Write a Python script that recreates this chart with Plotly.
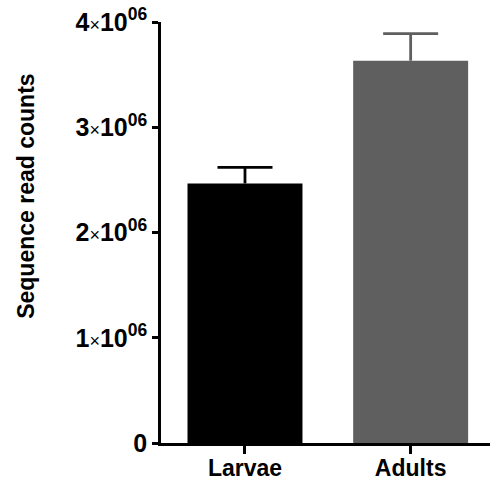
import plotly.graph_objects as go

categories = ["Larvae", "Adults"]
means = [2.466e6, 3.632e6]
errors = [0.153e6, 0.257e6]
colors = ["#000000", "#5f5f5f"]
tick_vals = [0, 1e6, 2e6, 3e6, 4e6]
tick_text = ["<b>0</b>"] + [
    "<b>%d</b><span style='font-size:18px'>×</span><b>10</b><sup><b>06</b></sup>" % k for k in (1, 2, 3, 4)
]
y_title = "Sequence read counts"

BAR_W = 0.694
CAP_HALF = 0.166

fig = go.Figure()
for i, cat in enumerate(categories):
    fig.add_trace(go.Bar(
        x=[i], y=[means[i]], width=BAR_W,
        marker=dict(color=colors[i], line=dict(width=0)),
        showlegend=False, hoverinfo="skip",
    ))
    top = means[i] + errors[i]
    fig.add_trace(go.Scatter(
        x=[i, i, None, i - CAP_HALF, i + CAP_HALF],
        y=[means[i], top, None, top, top],
        mode="lines", line=dict(color=colors[i], width=2.8),
        showlegend=False, hoverinfo="skip", cliponaxis=False,
    ))

FONT = "Liberation Sans, Arial, sans-serif"
fig.update_layout(
    template="none",
    width=490, height=481,
    margin=dict(l=161, r=0, t=22, b=38),
    paper_bgcolor="white", plot_bgcolor="white",
    barmode="overlay",
    font=dict(family=FONT, color="black", size=23),
    xaxis=dict(
        automargin=False,
        range=[-0.507, 1.479], tickvals=[0, 1],
        ticktext=["<b>" + c + "</b>" for c in categories],
        showline=True, linewidth=2.5, linecolor="black",
        ticks="outside", ticklen=8, tickwidth=2.5, tickcolor="black",
        showgrid=False, zeroline=False, tickfont=dict(size=23),
        ticklabelstandoff=-5, ticklabeloverflow="allow",
    ),
    yaxis=dict(
        automargin=False,
        range=[0, 4e6], tickvals=tick_vals, ticktext=tick_text,
        showline=True, linewidth=2.5, linecolor="black",
        ticks="outside", ticklen=6, tickwidth=2.5, tickcolor="black",
        showgrid=False, zeroline=False, tickfont=dict(size=25),
        ticklabeloverflow="allow",
    ),
    annotations=[dict(
        text="<b>" + y_title + "</b>", textangle=-90, showarrow=False,
        xref="paper", yref="paper", x=-0.41, y=0.585, xanchor="center", yanchor="middle",
        font=dict(size=23),
    )],
)
fig.write_html("out.html", config={"displayModeBar": False},
               post_script="document.body.style.margin='0';")
